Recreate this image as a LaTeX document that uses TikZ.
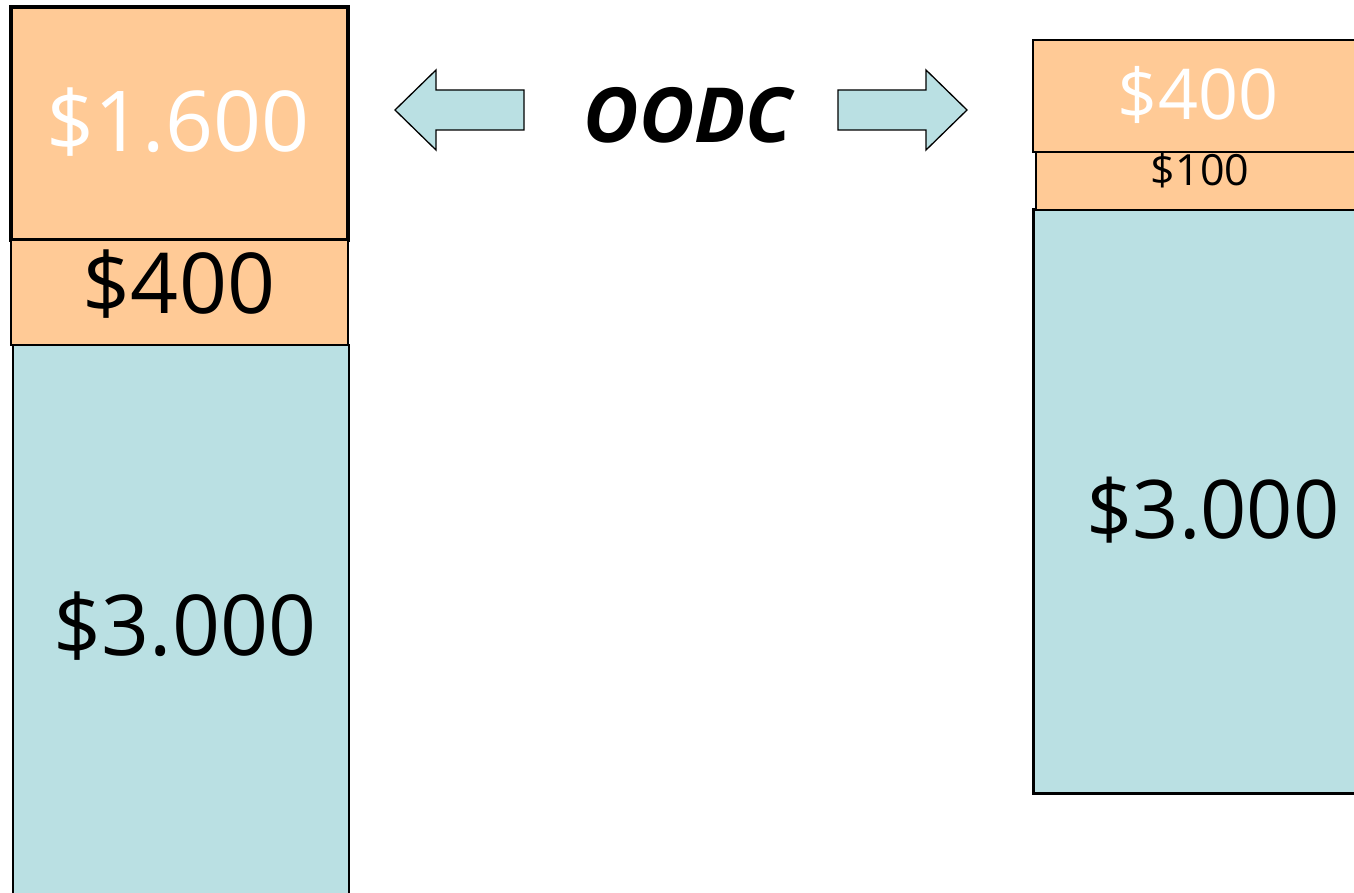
\documentclass[tikz,border=0pt]{standalone}
\usepackage{fontspec}
\setmainfont{Open Sans}
\usepackage{tikz}
\definecolor{peach}{RGB}{255,202,150}
\definecolor{paleblue}{RGB}{186,224,227}
\tikzset{every node/.style={align=center, inner sep=0pt, anchor=base}}
\tikzstyle{fillbox} = [draw=black, line width=2]
\tikzstyle{blockarrow} = [draw=black, fill=paleblue, line width=1.3, line join=miter]

\begin{document}
\begin{tikzpicture}[x=1pt, y=-1pt]
		\clip (0,0) rectangle (1354,893);
		\fill[white] (0,0) rectangle (1354,893);

		% Left column
		\draw[fillbox, fill=paleblue, line width=2.5] (13,345) rectangle (349,905);
		\draw[fillbox, fill=peach, line width=3.5] (11,7) rectangle (348,240);
		\draw[fillbox, fill=peach] (11,240) rectangle (348,345);
		%% Arrows
		\draw[blockarrow] (395,110) -- (436,70) -- (436,90) -- (524,90) -- (524,130) -- (436,130) -- (436,150) -- cycle;
		\draw[blockarrow] (967,110) -- (926,70) -- (926,90) -- (838,90) -- (838,130) -- (926,130) -- (926,150) -- cycle;
		% Right column
		\draw[fillbox, fill=paleblue, line width=3] (1033,210) rectangle (1365,793);
		\draw[fillbox, fill=peach, line width=2.5] (1033,40) rectangle (1365,152);
		\draw[fillbox, fill=peach] (1036,152) rectangle (1365,210);

		% Nodes
		\node[text=white] (big) at (178,152) {\fontsize{84}{90}\selectfont \$1.600};
		\node (lfour) at (179,313) {\fontsize{84}{90}\selectfont \$400};
		\node (lthree) at (185,655) {\fontsize{84}{90}\selectfont \$3.000};
		\node (oodc) at (688,143) {\fontsize{76}{80}\selectfont\bfseries\itshape OODC};
		\node[text=white] (rfour) at (1198,120) {\fontsize{70}{76}\selectfont \$400};
		\node (rone) at (1200,186) {\fontsize{43}{48}\selectfont \$100};
		\node (rthree) at (1213,538) {\fontsize{81}{86}\selectfont \$3.000};
	\end{tikzpicture}
\end{document}
